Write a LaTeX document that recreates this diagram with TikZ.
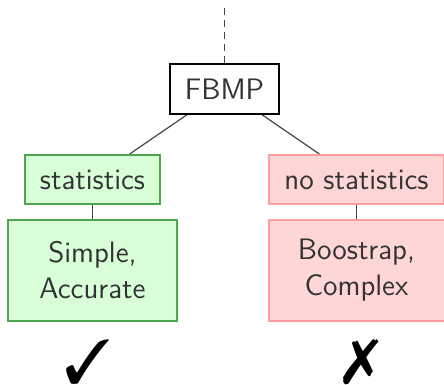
\documentclass[tikz,border=0pt]{standalone}
\usepackage{pifont}
\usetikzlibrary{positioning}
\definecolor{textgray}{RGB}{51,51,51}
\definecolor{linkgray}{RGB}{68,68,68}
\definecolor{goodfill}{RGB}{217,255,217}
\definecolor{goodline}{RGB}{77,166,77}
\definecolor{badfill}{RGB}{255,214,214}
\definecolor{badline}{RGB}{255,158,158}
\tikzset{
  >=stealth
}

\begin{document}
\begin{tikzpicture}[x=0.5pt,y=-0.5pt,
    box/.style={draw=black,line width=1pt,fill=white,text=textgray,align=center,inner sep=0pt,
      font=\sffamily\fontsize{14.8}{18}\selectfont},
    good/.style={box,draw=goodline,fill=goodfill},
    bad/.style={box,draw=badline,fill=badfill},
    link/.style={draw=linkgray,line width=0.6pt},
    verdict/.style={inner sep=0pt,font=\fontsize{31}{31}\selectfont}]
        \useasboundingbox (0, 0) rectangle (444, 385);

        \node (fbmp) at (224.5, 89) [box, minimum width=54.5pt, minimum height=25pt] {FBMP};
        \node (stat) at (92.5, 179.5) [good, minimum width=67.5pt, minimum height=24.5pt] {statistics};
        \node (nostat) at (356.5, 179.5) [bad, minimum width=87.5pt, minimum height=24.5pt] {no statistics};
        \node (simple) at (92.5, 270.5) [good, minimum width=84.5pt, minimum height=50.5pt] {Simple,\\Accurate};
        \node (boot) at (356.5, 270.5) [bad, minimum width=88pt, minimum height=50.5pt] {Boostrap,\\Complex};
        \node (yes) at (88, 362) [verdict] {\ding{51}};
        \node (no) at (361, 362) [verdict] {\ding{55}};
        \coordinate (up) at (224.5, 8);

        \draw[link, line width=0.8pt, dash pattern=on 3.5pt off 2.5pt] (up) -- (fbmp);
        \draw[link] (fbmp) -- (stat);
        \draw[link] (fbmp) -- (nostat);
        \draw[link] (stat) -- (simple);
        \draw[link] (nostat) -- (boot);
    \end{tikzpicture}
\end{document}
